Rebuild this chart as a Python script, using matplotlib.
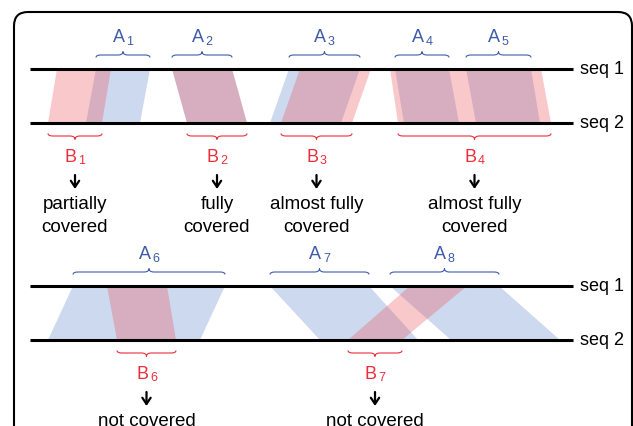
import matplotlib.pyplot as plt
from matplotlib.path import Path
from matplotlib.patches import Polygon, PathPatch, FancyBboxPatch

plt.rcParams['font.family'] = ['Liberation Sans', 'DejaVu Sans']

# y of seq 1 / seq 2 in each panel (pixels)
seq1_y = [70, 287]
seq2_y = [124, 341]

# A blocks (blue): x-range on seq 1 and on seq 2
a_names = ["A1", "A2", "A3", "A4", "A5", "A6", "A7", "A8"]
a_panel = [0, 0, 0, 0, 0, 1, 1, 1]
a_top = [(96, 150), (172, 232), (289, 360), (395, 449), (466, 531),
         (73, 225), (270, 369), (390, 499)]
a_bot = [(86, 140), (187, 247), (270, 341), (404, 459), (476, 540),
         (48, 200), (320, 418), (451, 560)]

# B blocks (pink)
b_names = ["B1", "B2", "B3", "B4", "B6", "B7"]
b_panel = [0, 0, 0, 0, 1, 1]
b_top = [(57, 111), (172, 232), (300, 371), (390, 541), (107, 167), (410, 467)]
b_bot = [(48, 102), (187, 247), (281, 352), (398, 551), (117, 176), (348, 402)]
b_caption = ["partially\ncovered", "fully\ncovered", "almost fully\ncovered",
             "almost fully\ncovered", "not covered", "not covered"]

BLUE_FILL = "#cdd9ee"
PINK_FILL = (235 / 255, 75 / 255, 85 / 255, 0.3)
BLUE_TXT = "#3f5ba9"
RED_TXT = "#ec2d3a"


def brace(ax, x0, x1, y, up, color):
    # curly brace, ends at y, tip pointing up (smaller y) or down
    s = -1 if up else 1
    yf = y + s * 2.5
    yt = y + s * 6
    xm = (x0 + x1) / 2
    q = 5
    verts = [(x0, y), (x0, yf), (x0 + q, yf), (xm - q, yf), (xm, yf), (xm, yt),
             (xm, yf), (xm + q, yf), (x1 - q, yf), (x1, yf), (x1, y)]
    codes = [Path.MOVETO, Path.CURVE3, Path.CURVE3, Path.LINETO, Path.CURVE3,
             Path.CURVE3, Path.CURVE3, Path.CURVE3, Path.LINETO, Path.CURVE3,
             Path.CURVE3]
    ax.add_patch(PathPatch(Path(verts, codes), fill=False, edgecolor=color,
                           linewidth=0.8))


def label(ax, x, y, name, color):
    # letter + subscript number, y = baseline of the letter
    ax.text(x + 1.5, y, name[0], color=color, fontsize=13, ha="right", va="baseline")
    ax.text(x + 3.5, y + 2.5, name[1:], color=color, fontsize=9, ha="left", va="baseline")


fig = plt.figure(figsize=(6.33, 4.27), dpi=100)
ax = fig.add_axes([0, 0, 1, 1])
ax.set_xlim(0, 633)
ax.set_ylim(427, 0)
ax.axis("off")

frame = FancyBboxPatch((14, 13), 618, 460, boxstyle="round,pad=0,rounding_size=14",
                       fill=False, edgecolor="black", linewidth=1.5)
ax.add_patch(frame)

for i in range(len(a_names)):
    p = a_panel[i]
    (t0, t1), (b0, b1) = a_top[i], a_bot[i]
    ax.add_patch(Polygon([(t0, seq1_y[p]), (t1, seq1_y[p]), (b1, seq2_y[p]), (b0, seq2_y[p])],
                         closed=True, facecolor=BLUE_FILL, edgecolor="none"))
    brace(ax, t0, t1, seq1_y[p] - 11.5, True, BLUE_TXT)
    label(ax, (t0 + t1) / 2, seq1_y[p] - 27.5, a_names[i], BLUE_TXT)

for i in range(len(b_names)):
    p = b_panel[i]
    (t0, t1), (b0, b1) = b_top[i], b_bot[i]
    ax.add_patch(Polygon([(t0, seq1_y[p]), (t1, seq1_y[p]), (b1, seq2_y[p]), (b0, seq2_y[p])],
                         closed=True, facecolor=PINK_FILL, edgecolor="none"))
    xm = (b0 + b1) / 2
    brace(ax, b0, b1, seq2_y[p] + 10.5, False, RED_TXT)
    label(ax, xm, seq2_y[p] + 38, b_names[i], RED_TXT)
    ay = seq2_y[p] + 59
    ax.annotate("", xy=(xm, ay + 7), xytext=(xm, ay - 7),
                arrowprops=dict(arrowstyle="->,head_length=0.45,head_width=0.3",
                                color="black", lw=1.6, shrinkA=0, shrinkB=0))
    for k, line in enumerate(b_caption[i].split("\n")):
        ax.text(xm, seq2_y[p] + 85 + 23 * k, line, fontsize=13.5, ha="center",
                va="baseline")

for p in range(2):
    for y, name in [(seq1_y[p], "seq 1"), (seq2_y[p], "seq 2")]:
        ax.plot([30, 573], [y, y], color="black", linewidth=2.2, solid_capstyle="butt")
        ax.text(580, y, name, fontsize=13, ha="left", va="center")

fig.savefig("out.png", dpi=100)
